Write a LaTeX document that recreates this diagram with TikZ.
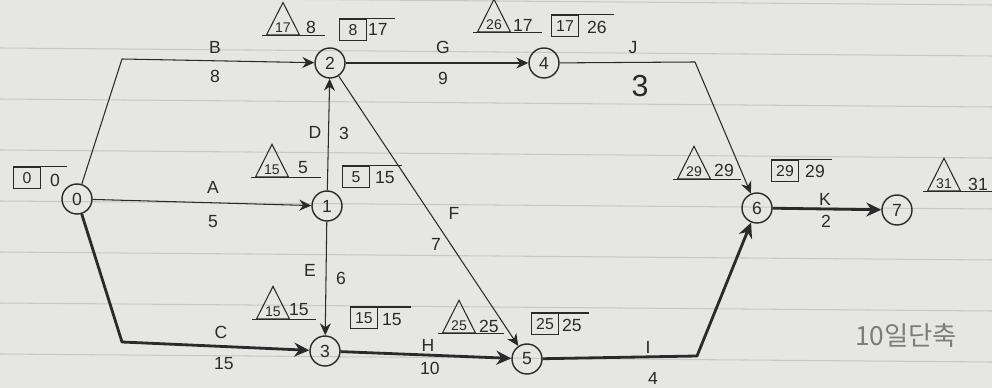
\documentclass[tikz,border=0pt]{standalone}
\usepackage{fontspec}
\setmainfont{Liberation Sans}
\newfontfamily\krfont{Noto Sans CJK KR}
\usetikzlibrary{arrows.meta,shapes.geometric,positioning}
\definecolor{ink}{HTML}{2A2A2A}
\definecolor{paper}{HTML}{E6E6E4}
\definecolor{rulegray}{HTML}{C8C8C6}
\definecolor{pencil}{HTML}{7C7C7C}
\tikzset{
  evnode/.style={
    circle,
    draw=ink,
    thick,
    minimum size=0.6cm,
    inner sep=0pt,
    text=ink
  },
  estri/.style={
    isosceles triangle,
    shape border rotate=90,
    isosceles triangle stretches,
    minimum width=0.66cm,
    minimum height=0.52cm,
    draw=ink,
    semithick,
    inner sep=0.5pt,
    text=ink,
    font=\footnotesize
  },
  lfbox/.style={
    rectangle,
    draw=ink,
    semithick,
    minimum width=0.54cm,
    minimum height=0.42cm,
    inner sep=1pt,
    text=ink,
    font=\small
  },
  timenum/.style={
    inner sep=1pt,
    text=ink
  },
  actlabel/.style={
    inner sep=1pt,
    text=ink
  },
  markline/.style={
    draw=ink,
    semithick
  },
  actline/.style={
    -{Stealth[length=2.4mm,width=2.2mm]},
    draw=ink,
    semithick,
    line join=round
  },
  critline/.style={
    -{Stealth[length=3mm,width=2.8mm]},
    draw=ink,
    line width=1.6pt,
    line join=round
  },
  paperrule/.style={
    draw=rulegray,
    line width=0.6pt
  }
}

\begin{document}
\begin{tikzpicture}[x=0.02cm, y=-0.02cm]
    % lined paper
    \fill[paper] (0,0) rectangle (992,388);
    \useasboundingbox (0,0) rectangle (992,388);
    \foreach \yy in {-3,48,99,150,201,252,303,354}
        \draw[paperrule] (0,\yy) -- (992,\yy+8);

    % events
    \node[evnode] (n0) at (77,199) {0};
    \node[evnode] (n1) at (327,206) {1};
    \node[evnode] (n2) at (330,63) {2};
    \node[evnode] (n3) at (325,351) {3};
    \node[evnode] (n4) at (544,63) {4};
    \node[evnode] (n5) at (527,359) {5};
    \node[evnode] (n6) at (757,208) {6};
    \node[evnode] (n7) at (897,210) {7};

    % bends
    \coordinate (bB) at (122,59);
    \coordinate (bC) at (122,342);
    \coordinate (bJ) at (695,62);
    \coordinate (bI) at (697,356);

    % activities
    \draw[actline] (n0) -- (bB) -- (n2);
    \draw[actline] (n0) -- (n1);
    \draw[critline] (n0) -- (bC) -- (n3);
    \draw[actline] (n1) -- (n2);
    \draw[actline] (n1) -- (n3);
    \draw[actline] (n2) -- (n4);
    \draw[actline] (n2) -- (n5);
    \draw[actline] (n4) -- (bJ) -- (n6);
    \draw[critline] (n3) -- (n5);
    \draw[critline] (n5) -- (bI) -- (n6);
    \draw[critline] (n6) -- (n7);

    % activity names and durations
    \node[actlabel] (lB) at (215,47) {B};
    \node[actlabel] (lB8) at (215,76) {8};
    \node[actlabel] (lA) at (213,187) {A};
    \node[actlabel] (lA5) at (213,222) {5};
    \node[actlabel] (lC) at (221,332) {C};
    \node[actlabel] (lC15) at (224,364) {15};
    \node[actlabel] (lD) at (315,132) {D};
    \node[actlabel] (lD3) at (344,133) {3};
    \node[actlabel] (lE) at (310,270) {E};
    \node[actlabel] (lE6) at (341,278) {6};
    \node[actlabel] (lG) at (443,47) {G};
    \node[actlabel] (lG9) at (443,78) {9};
    \node[actlabel] (lF) at (454,213) {F};
    \node[actlabel] (lF7) at (436,244) {7};
    \node[actlabel] (lJ) at (633,48) {J};
    \node[actlabel, font=\LARGE] (lJ3) at (640,86) {3};
    \node[actlabel] (lH) at (428,345) {H};
    \node[actlabel] (lH10) at (430,368) {10};
    \node[actlabel] (lI) at (648,347) {I};
    \node[actlabel] (lI4) at (653,378) {4};
    \node[actlabel] (lK) at (825,199) {K};
    \node[actlabel] (lK2) at (826,221) {2};

    % event 0
    \node[lfbox] (lf0) at (27,178) {0};
    \node[timenum] (lf0v) at (55,180) {0};
    \draw[markline] (lf0.north west) -- ([xshift=3pt]lf0v.east |- lf0.north);

    % event 2
    \node[estri] (es2) at (283,28) {17};
    \node[timenum] (es2v) at (311,27) {8};
    \draw[markline] ([xshift=-2pt]es2.left corner) -- ([xshift=4pt]es2v.east |- es2.left corner);
    \node[lfbox] (lf2) at (353,30) {8};
    \node[timenum] (lf2v) at (378,29) {17};
    \draw[markline] (lf2.north west) -- ([xshift=3pt]lf2v.east |- lf2.north);

    % event 4
    \node[estri] (es4) at (494,25) {26};
    \node[timenum] (es4v) at (523,25) {17};
    \draw[markline] ([xshift=-2pt]es4.left corner) -- ([xshift=4pt]es4v.east |- es4.left corner);
    \node[lfbox] (lf4) at (565,26) {17};
    \node[timenum] (lf4v) at (597,27) {26};
    \draw[markline] (lf4.north west) -- ([xshift=3pt]lf4v.east |- lf4.north);

    % event 1
    \node[estri] (es1) at (272,170) {15};
    \node[timenum] (es1v) at (303,168) {5};
    \draw[markline] ([xshift=-2pt]es1.left corner) -- ([xshift=6pt]es1v.east |- es1.left corner);
    \node[lfbox] (lf1) at (356,177) {5};
    \node[timenum] (lf1v) at (385,178) {15};
    \draw[markline] (lf1.north west) -- ([xshift=3pt]lf1v.east |- lf1.north);

    % event 3
    \node[estri] (es3) at (273,312) {15};
    \node[timenum] (es3v) at (299,310) {15};
    \draw[markline] ([xshift=-2pt]es3.left corner) -- ([xshift=3pt]es3v.east |- es3.left corner);
    \node[lfbox] (lf3) at (364,318) {15};
    \node[timenum] (lf3v) at (392,320) {15};
    \draw[markline] (lf3.north west) -- ([xshift=4pt]lf3v.east |- lf3.north);

    % event 5
    \node[estri] (es5) at (459,326) {25};
    \node[timenum] (es5v) at (489,326) {25};
    \draw[markline] ([xshift=-2pt]es5.left corner) -- ([xshift=2pt]es5v.east |- es5.left corner);
    \node[lfbox] (lf5) at (545,324) {25};
    \node[timenum] (lf5v) at (572,325) {25};
    \draw[markline] (lf5.north west) -- ([xshift=3pt]lf5v.east |- lf5.north);

    % event 6
    \node[estri] (es6) at (694,172) {29};
    \node[timenum] (es6v) at (724,170) {29};
    \draw[markline] ([xshift=-2pt]es6.left corner) -- ([xshift=3pt]es6v.east |- es6.left corner);
    \node[lfbox] (lf6) at (785,171) {29};
    \node[timenum] (lf6v) at (815,171) {29};
    \draw[markline] (lf6.north west) -- ([xshift=3pt]lf6v.east |- lf6.north);

    % event 7
    \node[estri] (es7) at (944,184) {31};
    \node[timenum] (es7v) at (978,184) {31};
    \draw[markline] ([xshift=-2pt]es7.left corner) -- (992,184 |- es7.left corner);

    % note
    \node[text=pencil, font=\krfont\fontsize{15}{18}\selectfont] (note) at (906,336) {10일단축};
\end{tikzpicture}
\end{document}
